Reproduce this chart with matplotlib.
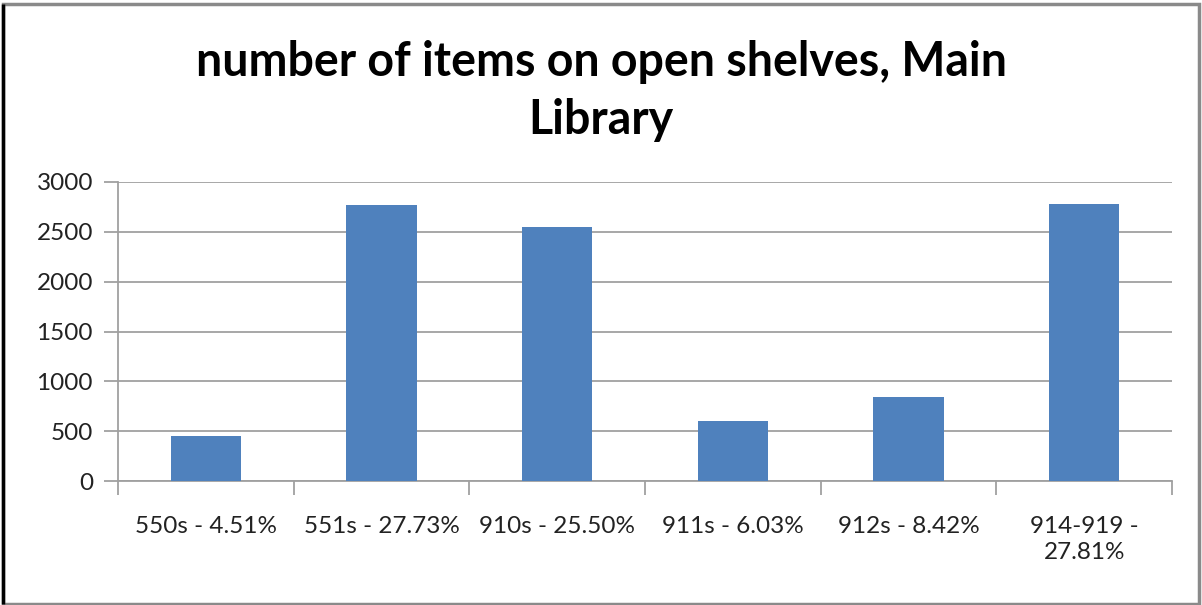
import matplotlib
matplotlib.use("Agg")
import matplotlib.pyplot as plt
from matplotlib.patches import Rectangle

categories = ["550s - 4.51%", "551s - 27.73%", "910s - 25.50%", "911s - 6.03%", "912s - 8.42%", "914-919 -\n27.81%"]
values = [451, 2773, 2550, 603, 842, 2781]
yticks = [0, 500, 1000, 1500, 2000, 2500, 3000]
title = "number of items on open shelves, Main\nLibrary"

plt.rcParams['font.family'] = ['Lato', 'DejaVu Sans']

fig = plt.figure(figsize=(12.02, 6.05), dpi=100)
W, H = 1202, 605
ax = fig.add_axes([118 / W, 1 - 481 / H, (1172 - 118) / W, (481 - 182) / H])

x = list(range(len(categories)))
ax.bar(x, values, width=0.4, color="#4F81BD", zorder=3)
ax.set_xlim(-0.5, len(categories) - 0.5)
ax.set_ylim(0, 3000)
ax.set_yticks(yticks)
ax.set_yticklabels([str(v) for v in yticks], fontsize=17.5, color="#222222")
ax.yaxis.grid(True, color="#A0A0A0", linewidth=1.3, zorder=0)
ax.set_xticks([i - 0.5 for i in range(len(categories) + 1)], minor=False)
ax.set_xticklabels([])
ax.set_xticks(x, minor=True)
ax.set_xticklabels(categories, minor=True, fontsize=17.5, color="#222222", linespacing=1.3, va="top")
ax.tick_params(axis="x", which="major", length=10, color="#A0A0A0", width=1.3, direction="out")
ax.tick_params(axis="x", which="minor", length=0, pad=25)
ax.tick_params(axis="y", length=10, color="#A0A0A0", width=1.3, pad=8)
for s in ["top", "right"]:
    ax.spines[s].set_visible(False)
for s in ["left", "bottom"]:
    ax.spines[s].set_color("#A0A0A0")
    ax.spines[s].set_linewidth(1.3)

fig.text(0.5, 1 - 91 / H, title, ha="center", va="center", fontsize=33.5, fontweight="bold",
         linespacing=1.4, color="black")

fig.patches.append(Rectangle((3 / W, 1 / H), 1196 / W, 600 / H, transform=fig.transFigure,
                             fill=False, edgecolor="#8A8A8A", linewidth=2.5))
fig.patches.append(Rectangle((3 / W, 1 / H), 0, 600 / H, transform=fig.transFigure,
                             fill=False, edgecolor="#000000", linewidth=2.5))

fig.savefig("out.png", dpi=100)
